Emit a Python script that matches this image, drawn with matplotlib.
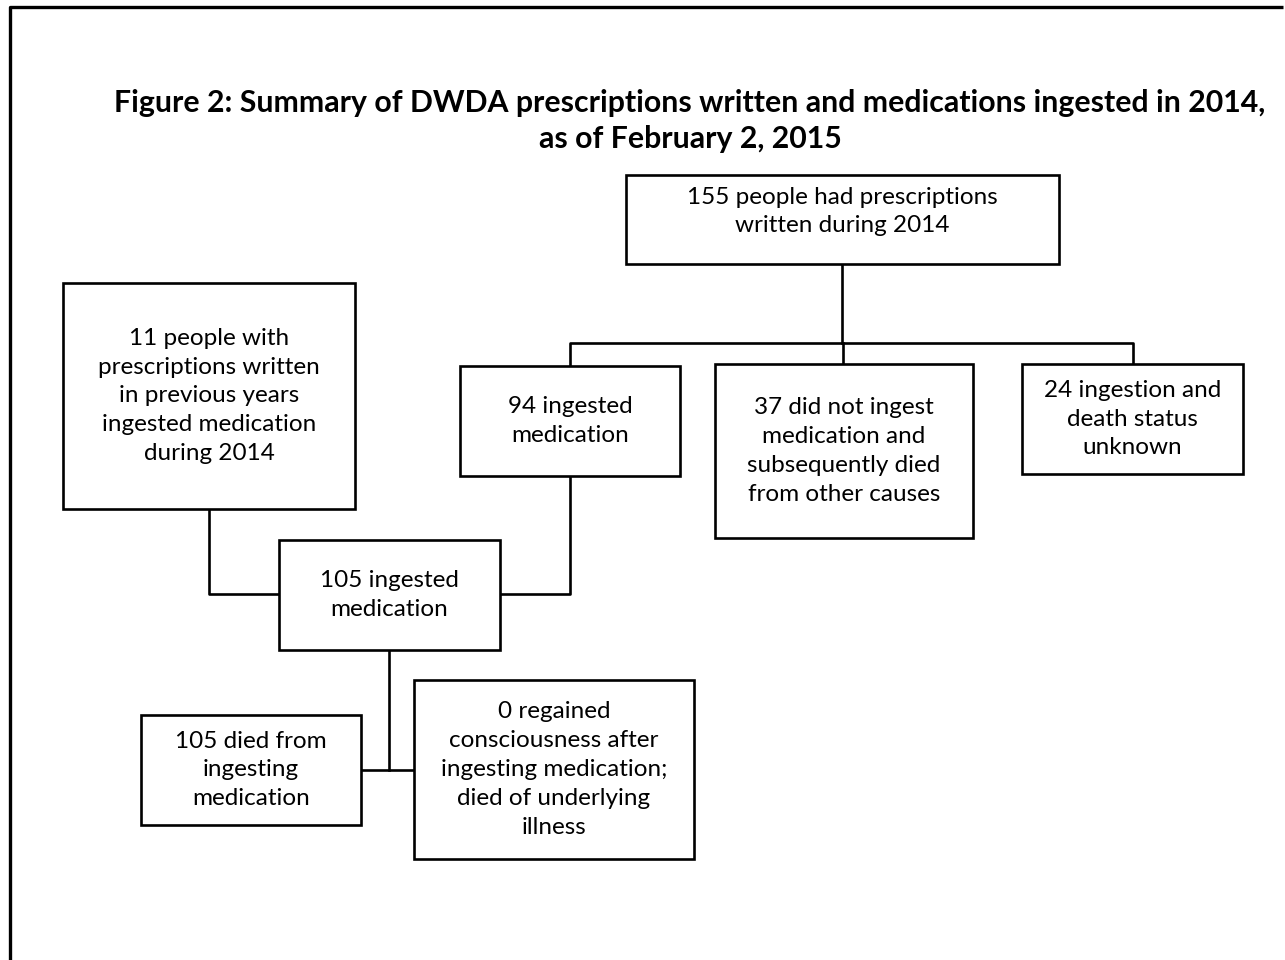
import matplotlib.pyplot as plt
from matplotlib.patches import Rectangle

## Chart text
title_lines = ["Figure 2: Summary of DWDA prescriptions written and medications ingested in 2014,",
               "as of February 2, 2015"]
box_labels = {
    'written': "155 people had prescriptions\nwritten during 2014",
    'previous': "11 people with\nprescriptions written\nin previous years\ningested medication\nduring 2014",
    'ingested94': "94 ingested\nmedication",
    'not_ingested': "37 did not ingest\nmedication and\nsubsequently died\nfrom other causes",
    'unknown': "24 ingestion and\ndeath status\nunknown",
    'ingested105': "105 ingested\nmedication",
    'died': "105 died from\ningesting\nmedication",
    'regained': "0 regained\nconsciousness after\ningesting medication;\ndied of underlying\nillness",
}

## Layout in pixels (x0, y0, x1, y1), y measured from top
box_pos = {
    'written': (626, 175, 1059, 264),
    'previous': (63, 283, 355, 509),
    'ingested94': (460, 366, 680, 476),
    'not_ingested': (715, 364, 973, 538),
    'unknown': (1022, 364, 1243, 474),
    'ingested105': (279, 540, 500, 650),
    'died': (141, 715, 361, 825),
    'regained': (414, 680, 694, 859),
}
# the top box has its text sitting a bit high
text_shift = {'written': -8}
connectors = [
    [(842, 264), (842, 343)],
    [(570, 366), (570, 343), (1133, 343), (1133, 364)],
    [(843, 343), (843, 364)],
    [(209, 509), (209, 594), (279, 594)],
    [(570, 476), (570, 594), (500, 594)],
    [(389, 650), (389, 770)],
    [(361, 770), (414, 770)],
]

W, H = 1285, 960
fig = plt.figure(figsize=(W / 100, H / 100), dpi=100)
ax = fig.add_axes([0, 0, 1, 1])
ax.set_xlim(0, W)
ax.set_ylim(H, 0)
ax.axis('off')

font = ['Lato', 'DejaVu Sans']

# outer frame (right and bottom run off the image)
ax.plot([10, 10, 1283], [H, 7, 7], color='black', lw=2.4, solid_capstyle='butt')

for i, line in enumerate(title_lines):
    ax.text(690, 103 + i * 36, line, ha='center', va='center', fontsize=21.8,
            fontweight='bold', family=font)

for seg in connectors:
    xs, ys = zip(*seg)
    ax.plot(xs, ys, color='black', lw=1.9, solid_capstyle='projecting')

for key, (x0, y0, x1, y1) in box_pos.items():
    ax.add_patch(Rectangle((x0, y0), x1 - x0, y1 - y0, fill=True, fc='white',
                           ec='black', lw=1.9, zorder=3))
    ax.text((x0 + x1) / 2, (y0 + y1) / 2 + text_shift.get(key, 0), box_labels[key],
            ha='center', va='center', fontsize=17.5, family=font,
            linespacing=1.47, zorder=4)

fig.savefig('out.png', dpi=100)
